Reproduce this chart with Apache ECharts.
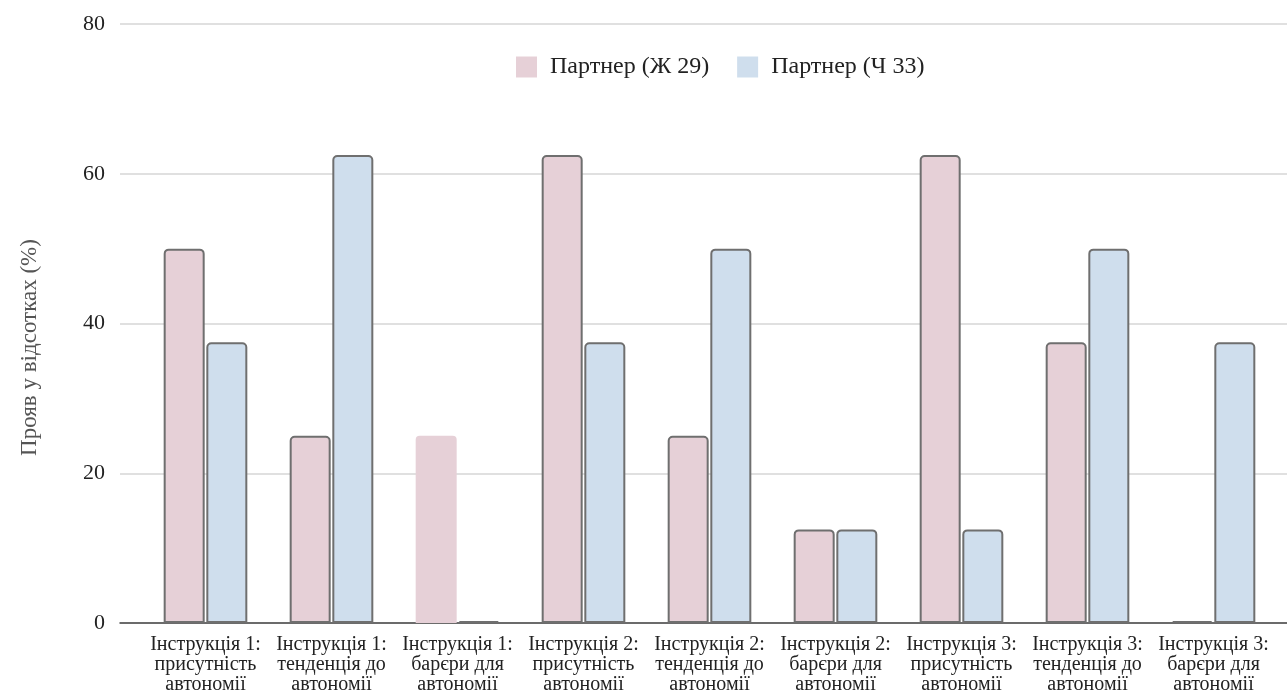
<!DOCTYPE html>
<html>
<head>
<meta charset="utf-8">
<script src="https://cdn.jsdelivr.net/npm/echarts@6/dist/echarts.min.js"></script>
<style>
html,body{margin:0;padding:0;background:#fff;}
#c{width:1287px;height:695px;}
</style>
</head>
<body>
<div id="c"></div>
<script>
const categories = [
  'Інструкція 1:\nприсутність\nавтономії',
  'Інструкція 1:\nтенденція до\nавтономії',
  'Інструкція 1:\nбарєри для\nавтономії',
  'Інструкція 2:\nприсутність\nавтономії',
  'Інструкція 2:\nтенденція до\nавтономії',
  'Інструкція 2:\nбарєри для\nавтономії',
  'Інструкція 3:\nприсутність\nавтономії',
  'Інструкція 3:\nтенденція до\nавтономії',
  'Інструкція 3:\nбарєри для\nавтономії'
];
const seriesNames = ['Партнер (Ж 29)', 'Партнер (Ч 33)'];
const femaleValues = [50, 25, 25, 62.5, 25, 12.5, 62.5, 37.5, 0];
const maleValues = [37.5, 62.5, 0, 37.5, 50, 12.5, 12.5, 50, 37.5];
const yTicks = [0, 20, 40, 60, 80];
const yTitle = 'Прояв у відсотках (%)';

const serif = '"Liberation Serif", "DejaVu Serif", serif';
const TOP = 24, BOTTOM = 72;

const chart = echarts.init(document.getElementById('c'));
const femaleData = femaleValues.map((v, i) => i === 2 ? { value: v, itemStyle: { borderWidth: 0 } } : v);

chart.setOption({
  animation: false,
  legend: {
    data: seriesNames,
    left: 511,
    top: 50,
    itemWidth: 21,
    itemHeight: 21,
    itemGap: 28,
    icon: 'rect',
    itemStyle: { borderWidth: 0 },
    textStyle: { fontFamily: serif, fontSize: 24, color: '#222', padding: [0, 0, 0, 8] }
  },
  graphic: [{
    type: 'text',
    left: 18,
    top: 'middle',
    rotation: Math.PI / 2,
    style: { text: yTitle, font: '23px ' + serif, fill: '#555' }
  }],
  grid: [
    { left: 120, right: 0, top: TOP, bottom: BOTTOM },
    { left: 142.5, right: 10.5, top: TOP, bottom: BOTTOM }
  ],
  xAxis: [
    {
      gridIndex: 0, type: 'value', min: 0, max: 1,
      axisLine: { show: true, onZero: false, lineStyle: { color: '#444', width: 1.5 } },
      axisTick: { show: false }, axisLabel: { show: false }, splitLine: { show: false }
    },
    {
      gridIndex: 1, type: 'category', data: categories,
      axisLine: { show: false }, axisTick: { show: false },
      axisLabel: { interval: 0, margin: 12, fontFamily: serif, fontSize: 20, lineHeight: 20, color: '#222', align: 'center' }
    }
  ],
  yAxis: [
    {
      gridIndex: 0, type: 'value', min: 0, max: 80, interval: 20,
      axisLine: { show: false }, axisTick: { show: false },
      axisLabel: { margin: 15, fontFamily: serif, fontSize: 22, color: '#222',
        formatter: v => yTicks.includes(v) ? String(v) : '' },
      splitLine: { lineStyle: { color: '#d6d6d6', width: 1.5 } }
    },
    {
      gridIndex: 1, type: 'value', min: 0, max: 80, interval: 20, show: false,
      splitLine: { show: false }
    }
  ],
  series: [
    {
      name: seriesNames[0], type: 'bar', xAxisIndex: 1, yAxisIndex: 1,
      data: femaleData, barWidth: 41, barGap: '4%', barMinHeight: 2,
      itemStyle: { color: '#e6d0d7', borderColor: '#6f6f6f', borderWidth: 2, borderRadius: [4, 4, 0, 0] }
    },
    {
      name: seriesNames[1], type: 'bar', xAxisIndex: 1, yAxisIndex: 1,
      data: maleValues, barWidth: 41, barGap: '4%', barMinHeight: 2,
      itemStyle: { color: '#cfdeed', borderColor: '#6f6f6f', borderWidth: 2, borderRadius: [4, 4, 0, 0] }
    }
  ]
});
</script>
</body>
</html>
